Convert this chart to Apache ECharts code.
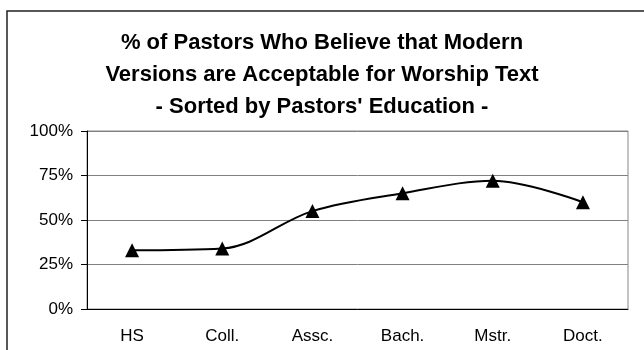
<!DOCTYPE html>
<html>
<head>
<meta charset="utf-8">
<script src="https://cdn.jsdelivr.net/npm/echarts@6/dist/echarts.min.js"></script>
<style>
html, body { margin: 0; padding: 0; background: #fff; }
#chart { width: 644px; height: 350px; }
</style>
</head>
<body>
<div id="chart"></div>
<script>
var categories = ['HS', 'Coll.', 'Assc.', 'Bach.', 'Mstr.', 'Doct.'];
var values = [33, 34, 55, 65, 72, 60];
var yTicks = [0, 25, 50, 75, 100];

var chart = echarts.init(document.querySelector('#chart'), null, { renderer: 'canvas' });
var option;
option = {
    backgroundColor: '#fff',
    animation: false,
    title: {
        text: '% of Pastors Who Believe that Modern\nVersions are Acceptable for Worship Text\n- Sorted by Pastors\' Education -',
        left: 'center',
        top: 22,
        textStyle: {
            fontFamily: 'Liberation Sans',
            fontWeight: 'bold',
            fontSize: 22,
            lineHeight: 32,
            color: '#000'
        }
    },
    graphic: [
        {
            type: 'rect',
            shape: { x: 7, y: 11, width: 650, height: 360 },
            style: { fill: 'none', stroke: '#222', lineWidth: 1.5 },
            silent: true
        }
    ],
    grid: {
        top: 131,
        left: 87,
        right: 16,
        bottom: 41,
        show: true,
        borderColor: '#888',
        borderWidth: 1
    },
    xAxis: {
        type: 'category',
        data: categories,
        boundaryGap: true,
        axisLine: { lineStyle: { color: '#000', width: 1 } },
        axisTick: { length: 5, lineStyle: { color: '#000' } },
        axisLabel: {
            fontFamily: 'Liberation Sans',
            fontSize: 17,
            color: '#000',
            margin: 19
        }
    },
    yAxis: {
        type: 'value',
        min: yTicks[0],
        max: yTicks[yTicks.length - 1],
        interval: 25,
        axisLine: { show: true, lineStyle: { color: '#000', width: 1 } },
        axisTick: { show: true, length: 6, lineStyle: { color: '#000' } },
        splitLine: { show: true, lineStyle: { color: '#808080', width: 1 } },
        axisLabel: {
            fontFamily: 'Liberation Sans',
            fontSize: 17,
            color: '#000',
            margin: 14,
            formatter: '{value}%'
        }
    },
    series: [
        {
            type: 'line',
            data: values,
            smooth: 0.35,
            symbol: 'triangle',
            symbolSize: [14, 14],
            lineStyle: { color: '#000', width: 2 },
            itemStyle: { color: '#000' }
        }
    ]
};

if (option && typeof option === 'object') {
    chart.setOption(option);
}

window.addEventListener('resize', function () {
    chart.resize();
})
</script>
</body>
</html>
